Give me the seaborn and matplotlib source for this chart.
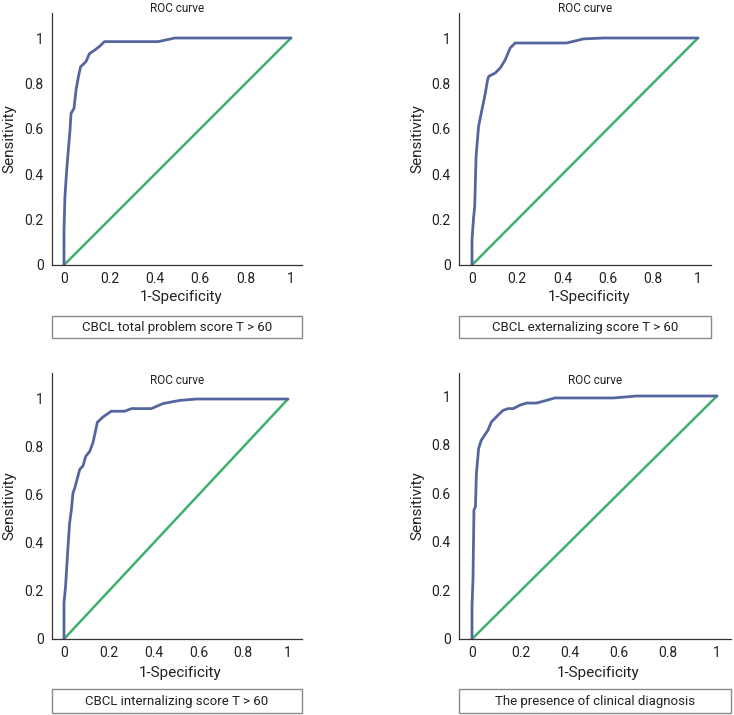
import numpy as np
import pandas as pd
import matplotlib as mpl
mpl.use("Agg")
import matplotlib.pyplot as plt
import seaborn as sns

# ROC curves: (1-specificity, sensitivity)
total_fpr = [0, 0, 0.004, 0.012, 0.019, 0.026, 0.031, 0.044, 0.053, 0.063, 0.07, 0.073,
             0.097, 0.112, 0.137, 0.159, 0.178, 0.415, 0.489, 1.0]
total_tpr = [0, 0.15, 0.3, 0.42, 0.507, 0.587, 0.668, 0.69, 0.771, 0.827, 0.859, 0.873,
             0.896, 0.931, 0.948, 0.965, 0.984, 0.984, 1.0, 1.0]

ext_fpr = [0, 0, 0.007, 0.012, 0.018, 0.029, 0.044, 0.059, 0.069, 0.074, 0.103, 0.125,
           0.147, 0.169, 0.191, 0.419, 0.493, 0.581, 1.0]
ext_tpr = [0, 0.11, 0.21, 0.257, 0.478, 0.61, 0.684, 0.757, 0.816, 0.831, 0.846, 0.868,
           0.904, 0.956, 0.978, 0.978, 0.996, 1.0, 1.0]

int_fpr = [0, 0, 0.007, 0.018, 0.025, 0.033, 0.04, 0.048, 0.062, 0.07, 0.085, 0.097,
           0.115, 0.129, 0.137, 0.149, 0.174, 0.211, 0.271, 0.301, 0.39, 0.442, 0.516,
           0.591, 1.0]
int_tpr = [0, 0.15, 0.22, 0.386, 0.483, 0.539, 0.608, 0.629, 0.678, 0.706, 0.722, 0.761,
           0.782, 0.817, 0.851, 0.903, 0.925, 0.949, 0.949, 0.96, 0.96, 0.981, 0.994,
           1.0, 1.0]

dx_fpr = [0, 0, 0.004, 0.008, 0.014, 0.018, 0.027, 0.038, 0.065, 0.079, 0.106, 0.127,
          0.147, 0.168, 0.195, 0.222, 0.263, 0.304, 0.338, 0.577, 0.673, 1.0]
dx_tpr = [0, 0.134, 0.243, 0.531, 0.544, 0.681, 0.784, 0.818, 0.859, 0.893, 0.921, 0.941,
          0.948, 0.948, 0.962, 0.971, 0.971, 0.982, 0.992, 0.992, 1.0, 1.0]

captions = ["CBCL total problem score T > 60", "CBCL externalizing score T > 60",
            "CBCL internalizing score T > 60", "The presence of clinical diagnosis"]
ticks = [0, 0.2, 0.4, 0.6, 0.8, 1]
tick_labels = ["0", "0.2", "0.4", "0.6", "0.8", "1"]

curves = [(total_fpr, total_tpr), (ext_fpr, ext_tpr), (int_fpr, int_tpr), (dx_fpr, dx_tpr)]

sns.set_style("white")
plt.rcParams['font.family'] = ['Roboto', 'DejaVu Sans']

W, H = 734, 715
fig = plt.figure(figsize=(W / 100, H / 100), dpi=100)

# panel boxes in pixels: left, right, top, bottom, px of x=0, px of x=1, px of y=1
panels = [
    dict(l=52, r=302, t=13, b=265, x0=64, x1=291, y1=38, title_y=8, xl_y=297, yl_x=9, box=(52, 302, 316, 338)),
    dict(l=459, r=711, t=13, b=265, x0=472, x1=698, y1=38, title_y=8, xl_y=297, yl_x=417, box=(459, 711, 316, 338)),
    dict(l=52, r=302, t=373, b=639, x0=64, x1=288, y1=399, title_y=381, xl_y=673, yl_x=9, box=(52, 302, 689, 713)),
    dict(l=459, r=731, t=373, b=639, x0=472, x1=717, y1=396, title_y=381, xl_y=673, yl_x=417, box=(459, 731, 689, 713)),
]

blue = "#55669e"
green = "#3fb06e"

for p, (fpr, tpr), cap in zip(panels, curves, captions):
    ax = fig.add_axes([p['l'] / W, 1 - p['b'] / H, (p['r'] - p['l']) / W, (p['b'] - p['t']) / H])
    sx = p['x1'] - p['x0']
    sy = p['b'] - p['y1']
    ax.set_xlim((p['l'] - p['x0']) / sx, (p['r'] - p['x0']) / sx)
    ax.set_ylim(0, (p['b'] - p['t']) / sy)

    df = pd.DataFrame({'fpr': fpr, 'tpr': tpr})
    sns.lineplot(x=[0, 1], y=[0, 1], ax=ax, color=green, lw=1.8)
    sns.lineplot(data=df, x='fpr', y='tpr', ax=ax, color=blue, lw=2.0,
                 sort=False, estimator=None)

    ax.set_xticks(ticks)
    ax.set_xticklabels(tick_labels)
    ax.set_yticks(ticks)
    ax.set_yticklabels(tick_labels)
    ax.tick_params(direction='in', length=5, width=0.8, color='#aaaaaa',
                   labelsize=10, labelcolor='#222222', pad=6)
    ax.tick_params(axis='x', pad=5)
    for s in ['top', 'right']:
        ax.spines[s].set_visible(False)
    for s in ['left', 'bottom']:
        ax.spines[s].set_color('#333333')
        ax.spines[s].set_linewidth(0.9)
    ax.set_xlabel('')
    ax.set_ylabel('')

    fig.text((p['l'] + p['r']) / 2 / W, 1 - p['title_y'] / H, 'ROC curve',
             ha='center', va='center', fontsize=8.5, color='#222222')
    fig.text((p['x0'] + p['x1']) / 2 / W + 4 / W, 1 - p['xl_y'] / H, '1-Specificity',
             ha='center', va='center', fontsize=11, color='#222222')
    fig.text(p['yl_x'] / W, 1 - (p['b'] + p['t']) / 2 / H, 'Sensitivity',
             ha='center', va='center', rotation=90, fontsize=11, color='#222222')

    bl, br, bt, bb = p['box']
    fig.patches.append(mpl.patches.Rectangle((bl / W, 1 - bb / H), (br - bl) / W, (bb - bt) / H,
                                             transform=fig.transFigure, fill=False,
                                             edgecolor='#8a8a8a', lw=1))
    fig.text((bl + br) / 2 / W, 1 - (bt + bb) / 2 / H, cap,
             ha='center', va='center', fontsize=9.5, color='#222222')

fig.savefig('out.png', dpi=100)
